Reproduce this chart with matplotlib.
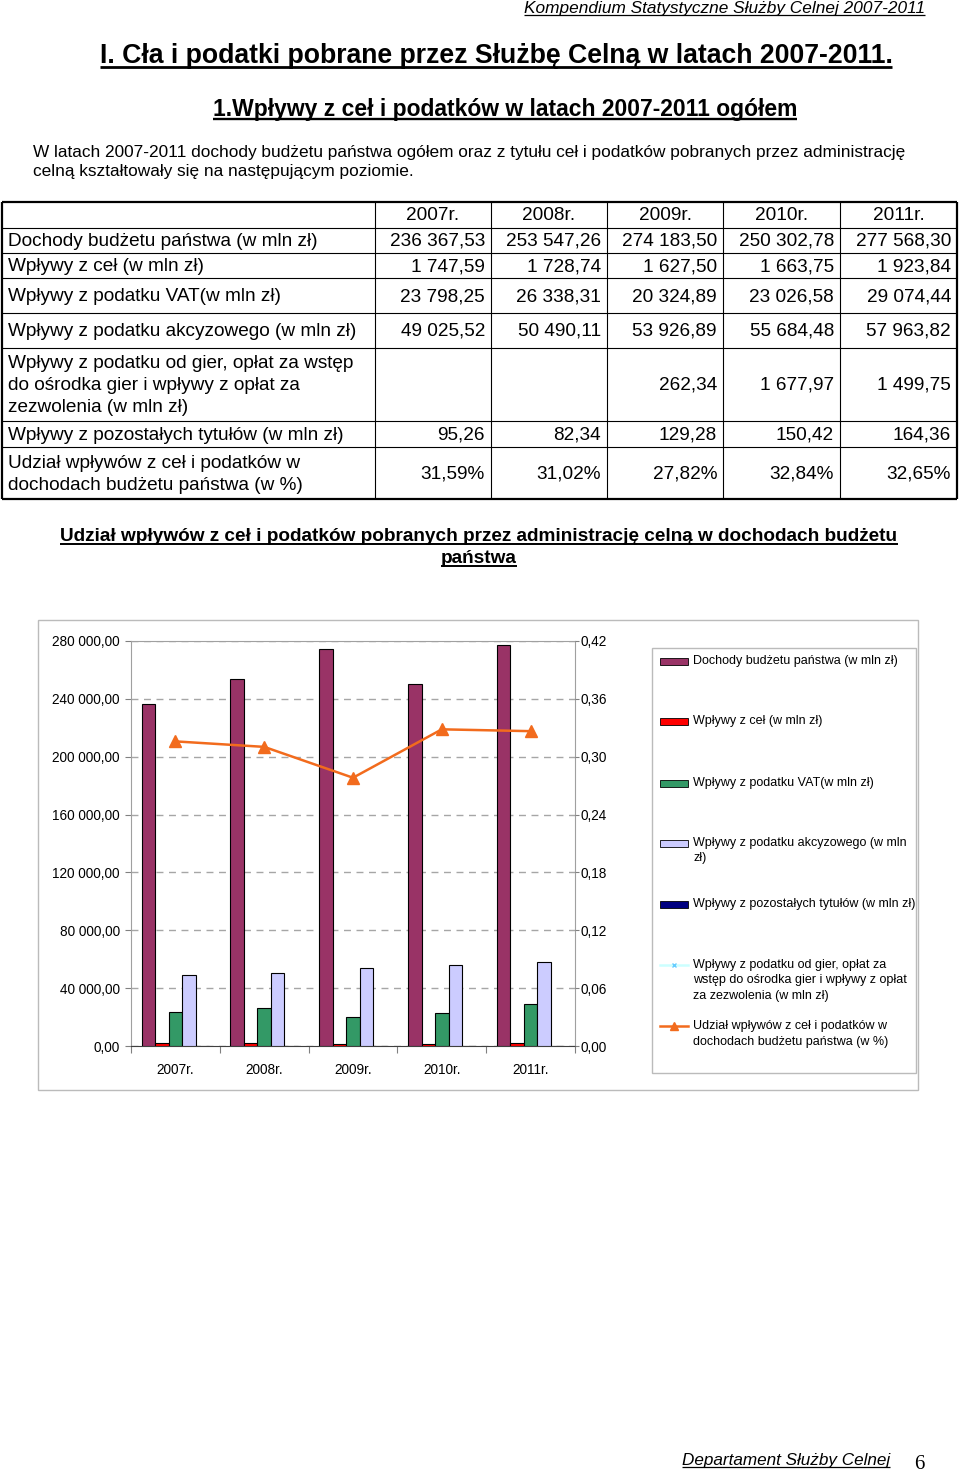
import matplotlib
matplotlib.use('Agg')
import matplotlib.pyplot as plt
from matplotlib.patches import Rectangle
from matplotlib.ticker import FuncFormatter
import numpy as np

plt.rcParams['font.family'] = ['Liberation Sans', 'DejaVu Sans']

# ---------------- data ----------------
years = ['2007r.', '2008r.', '2009r.', '2010r.', '2011r.']
dochody = [236367.53, 253547.26, 274183.50, 250302.78, 277568.30]
cla = [1747.59, 1728.74, 1627.50, 1663.75, 1923.84]
vat = [23798.25, 26338.31, 20324.89, 23026.58, 29074.44]
akcyza = [49025.52, 50490.11, 53926.89, 55684.48, 57963.82]
gry = [np.nan, np.nan, 262.34, 1677.97, 1499.75]
pozostale = [95.26, 82.34, 129.28, 150.42, 164.36]
udzial = [31.59, 31.02, 27.82, 32.84, 32.65]

row_labels = [
    'Dochody budżetu państwa (w mln zł)',
    'Wpływy z ceł (w mln zł)',
    'Wpływy z podatku VAT(w mln zł)',
    'Wpływy z podatku akcyzowego (w mln zł)',
    'Wpływy z podatku od gier, opłat za wstęp\ndo ośrodka gier i wpływy z opłat za\nzezwolenia (w mln zł)',
    'Wpływy z pozostałych tytułów (w mln zł)',
    'Udział wpływów z ceł i podatków w\ndochodach budżetu państwa (w %)',
]
legend_labels = [
    'Dochody budżetu państwa (w mln zł)',
    'Wpływy z ceł (w mln zł)',
    'Wpływy z podatku VAT(w mln zł)',
    'Wpływy z podatku akcyzowego (w mln\nzł)',
    'Wpływy z pozostałych tytułów (w mln zł)',
    'Wpływy z podatku od gier, opłat za\nwstęp do ośrodka gier i wpływy z opłat\nza zezwolenia (w mln zł)',
    'Udział wpływów z ceł i podatków w\ndochodach budżetu państwa (w %)',
]

C_DOCH = '#993366'
C_CLA = '#FF0000'
C_VAT = '#339966'
C_AKC = '#CCCCFF'
C_POZ = '#000080'
C_GRY = '#CCFFFF'
C_UDZ = '#F26B1D'


def fmt(v):
    return f'{v:,.2f}'.replace(',', ' ').replace('.', ',')


def fmt_pct(v):
    return f'{v:.2f}%'.replace('.', ',')


fig = plt.figure(figsize=(9.6, 14.73), dpi=100)
page = fig.add_axes([0, 0, 1, 1])
page.set_xlim(0, 960)
page.set_ylim(1473, 0)
page.axis('off')

underlined = []


def utext(x, y, s, ha='left', size=12, weight='normal', style='normal', lw=1.0):
    t = page.text(x, y, s, ha=ha, va='baseline', fontsize=size, fontweight=weight,
                  fontstyle=style)
    underlined.append((t, y, size, lw))
    return t


# ---------------- headers ----------------
utext(925, 13, 'Kompendium Statystyczne Służby Celnej 2007-2011', ha='right', size=12.4, style='italic', lw=0.9)
utext(496, 63, 'I. Cła i podatki pobrane przez Służbę Celną w latach 2007-2011.', ha='center', size=19.2, weight='bold', lw=2.0)
utext(505, 116, '1.Wpływy z ceł i podatków w latach 2007-2011 ogółem', ha='center', size=16.5, weight='bold', lw=1.7)
page.text(33, 157, 'W latach 2007-2011 dochody budżetu państwa ogółem oraz z tytułu ceł i podatków pobranych przez administrację',
          ha='left', va='baseline', fontsize=12.4)
page.text(33, 176, 'celną kształtowały się na następującym poziomie.', ha='left', va='baseline', fontsize=12.4)

# ---------------- table ----------------
col_edges = [2, 375, 491, 607, 723, 840, 957]
row_edges = [202, 228, 253, 278, 313, 348, 421, 447, 499]
tfs = 13.7
for xe in col_edges:
    lw = 1.6 if xe in (col_edges[0], col_edges[-1]) else 0.8
    page.plot([xe, xe], [row_edges[0], row_edges[-1]], color='black', lw=lw, solid_capstyle='butt')
for ye in row_edges:
    lw = 1.6 if ye in (row_edges[0], row_edges[-1]) else 0.8
    page.plot([col_edges[0], col_edges[-1]], [ye, ye], color='black', lw=lw, solid_capstyle='butt')

for j, yl in enumerate(years):
    cx = (col_edges[j + 1] + col_edges[j + 2]) / 2
    page.text(cx, (row_edges[0] + row_edges[1]) / 2 + 1, yl, ha='center', va='center', fontsize=tfs)

table_rows = [dochody, cla, vat, akcyza, gry, pozostale, udzial]
line_h = 22
for i, (lab, vals) in enumerate(zip(row_labels, table_rows)):
    yc = (row_edges[i + 1] + row_edges[i + 2]) / 2 + 1
    lines = lab.split('\n')
    n = len(lines)
    for k, ln in enumerate(lines):
        page.text(8, yc + (k - (n - 1) / 2) * line_h, ln, ha='left', va='center', fontsize=tfs)
    for j, v in enumerate(vals):
        if v is None or (isinstance(v, float) and np.isnan(v)):
            continue
        s = fmt_pct(v) if i == 6 else fmt(v)
        page.text(col_edges[j + 2] - 6, yc, s, ha='right', va='center', fontsize=tfs)

# ---------------- chart title ----------------
utext(479, 541, 'Udział wpływów z ceł i podatków pobranych przez administrację celną w dochodach budżetu',
      ha='center', size=13.7, weight='bold', lw=1.4)
utext(479, 563, 'państwa', ha='center', size=13.7, weight='bold', lw=1.4)

# chart frame and legend box
page.add_patch(Rectangle((38, 620), 880, 470, fill=False, edgecolor='#BBBBBB', lw=1.0))
page.add_patch(Rectangle((652, 648), 264, 425, fill=False, edgecolor='#BBBBBB', lw=1.0))

# ---------------- chart ----------------
ax = fig.add_axes([131 / 960, 1 - 1046 / 1473, 444 / 960, 405 / 1473])
x = np.arange(len(years))
w = 0.152
bar_series = [(dochody, C_DOCH), (cla, C_CLA), (vat, C_VAT), (akcyza, C_AKC), (pozostale, C_POZ)]
for i, (vals, c) in enumerate(bar_series):
    ax.bar(x + (i - 2) * w, vals, w, color=c, edgecolor='black', linewidth=0.8, zorder=3)
ax.set_xlim(-0.5, len(years) - 0.5)
ax.set_ylim(0, 280000)
ax.set_yticks(np.arange(0, 280001, 40000))
ax.yaxis.set_major_formatter(FuncFormatter(lambda v, p: fmt(v)))
ax.set_xticks(np.arange(-0.5, len(years), 1))
ax.set_xticklabels([])
ax.set_xticks(x, minor=True)
ax.set_xticklabels(years, minor=True)
ax.tick_params(axis='x', which='major', length=5, direction='out', color='#808080')
ax.tick_params(axis='x', which='minor', length=0, pad=12, labelsize=9.8)
ax.tick_params(axis='y', length=4, labelsize=9.8, pad=4, color='#808080')
ax.yaxis.grid(True, color='#A6A6A6', lw=1.0, ls=(0, (5, 4)), zorder=0)
ax.set_axisbelow(True)
for s in ['left', 'top', 'right']:
    ax.spines[s].set_color('#A0A0A0')
ax.spines['bottom'].set_color('#404040')
ax.patch.set_alpha(0)

ax2 = ax.twinx()
ax2.set_ylim(0, 0.42)
ax2.set_yticks(np.arange(0, 0.4201, 0.06))
ax2.yaxis.set_major_formatter(FuncFormatter(lambda v, p: f'{v:.2f}'.replace('.', ',')))
ax2.tick_params(axis='y', length=3, labelsize=9.8, pad=1, color='#808080')
for s in ['left', 'top', 'right', 'bottom']:
    ax2.spines[s].set_visible(False)
ax2.plot(x, gry, color=C_GRY, marker='x', ms=4, lw=1.5)
ax2.plot(x, np.array(udzial) / 100, color=C_UDZ, marker='^', ms=8, lw=1.8)

# ---------------- legend (manual) ----------------
leg_x0, leg_y0 = 652, 648
entry_y = [13, 73, 135, 195, 256, 317, 378]
lfs = 9.0
handles = [('bar', C_DOCH), ('bar', C_CLA), ('bar', C_VAT), ('bar', C_AKC), ('bar', C_POZ),
           ('line', C_GRY), ('line', C_UDZ)]
for (kind, c), lab, ey in zip(handles, legend_labels, entry_y):
    yy = leg_y0 + ey
    if kind == 'bar':
        page.add_patch(Rectangle((leg_x0 + 8, yy - 3.5), 28, 7, facecolor=c, edgecolor='black', lw=0.6))
    else:
        page.plot([leg_x0 + 8, leg_x0 + 36], [yy, yy], color=c, lw=1.8)
        if c == C_UDZ:
            page.plot([leg_x0 + 22], [yy], marker='^', color=c, ms=6)
        else:
            page.plot([leg_x0 + 22], [yy], marker='x', color='#66CCFF', ms=3)
    for k, ln in enumerate(lab.split('\n')):
        page.text(leg_x0 + 41, yy + k * 15.5, ln, ha='left', va='center', fontsize=lfs)

# ---------------- footer ----------------
utext(890, 1465, 'Departament Służby Celnej', ha='right', size=12.3, style='italic', lw=0.9)
page.text(919, 1469, '6', ha='center', va='baseline', fontsize=15, family=['Liberation Serif', 'DejaVu Serif'])

# underlines
fig.canvas.draw()
r = fig.canvas.get_renderer()
for t, y, size, lw in underlined:
    bb = t.get_window_extent(r)
    uy = y + size * 100 / 72 * 0.14
    page.plot([bb.x0, bb.x1], [uy, uy], color='black', lw=lw, solid_capstyle='butt')

fig.savefig('out.png', dpi=100)
